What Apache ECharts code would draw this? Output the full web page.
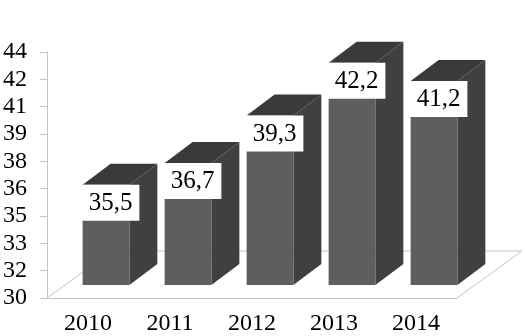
<!DOCTYPE html>
<html>
<head>
<meta charset="utf-8">
<script src="https://cdn.jsdelivr.net/npm/echarts@6/dist/echarts.min.js"></script>
<style>
html, body { margin: 0; padding: 0; background: #fff; }
#graph { width: 525px; height: 336px; }
</style>
</head>
<body>
<div id="graph"></div>
<script>
var years = ['2010', '2011', '2012', '2013', '2014'];
var values = [35.5, 36.7, 39.3, 42.2, 41.2];
var yMin = 30, yMax = 43.5, yStep = 1.5;

// pseudo-3D geometry (pixels)
var SHIFT_X = 18, SHIFT_Y = -13;   // bar pushed back into the floor
var DEPTH_X = 28, DEPTH_Y = -21;   // bar depth
var FLOOR_X = 65, FLOOR_Y = -47;   // floor depth

function fmt(v) {
    return String(v).replace('.', ',');
}

function renderFloor(params, api) {
    var cs = params.coordSys;
    var bx = cs.x, by = cs.y + cs.height, ex = cs.x + cs.width;
    return {
        type: 'polyline',
        shape: { points: [[bx, by], [bx + FLOOR_X, by + FLOOR_Y], [ex + FLOOR_X, by + FLOOR_Y], [ex, by]] },
        style: { stroke: '#c4c4c4', lineWidth: 1, fill: null }
    };
}

function renderBar(params, api) {
    var cat = api.value(0), val = api.value(1);
    var top = api.coord([cat, val]);
    var base = api.coord([cat, yMin]);
    var bw = api.size([1, 0])[0] * 0.57;
    var x0 = top[0] - bw / 2 + SHIFT_X, x1 = x0 + bw;
    var yt = top[1] + SHIFT_Y, yb = base[1] + SHIFT_Y;
    return {
        type: 'group',
        children: [
            {
                type: 'polygon',
                shape: { points: [[x1, yt], [x1 + DEPTH_X, yt + DEPTH_Y], [x1 + DEPTH_X, yb + DEPTH_Y], [x1, yb]] },
                style: { fill: '#404040' }
            },
            {
                type: 'polygon',
                shape: { points: [[x0, yt], [x1, yt], [x1 + DEPTH_X, yt + DEPTH_Y], [x0 + DEPTH_X, yt + DEPTH_Y]] },
                style: { fill: '#3a3a3a' }
            },
            {
                type: 'rect',
                shape: { x: x0, y: yt, width: bw, height: yb - yt },
                style: { fill: '#5e5e5e' }
            },
            {
                type: 'text',
                x: x0 - 1,
                y: yt,
                style: {
                    text: fmt(val),
                    font: '25px "Liberation Serif"',
                    fill: '#000',
                    align: 'left',
                    verticalAlign: 'top',
                    backgroundColor: '#fff',
                    padding: [6, 7, 5, 7]
                }
            }
        ]
    };
}

var chart = echarts.init(document.getElementById('graph'));
chart.setOption({
    backgroundColor: '#fff',
    animation: false,
    grid: { left: 45, right: 68, top: 52, bottom: 38 },
    xAxis: {
        type: 'category',
        data: years,
        axisLine: { lineStyle: { color: '#c4c4c4' } },
        axisTick: { length: 7, lineStyle: { color: '#c4c4c4' } },
        axisLabel: { color: '#000', fontFamily: 'Liberation Serif', fontSize: 24, margin: 14 }
    },
    yAxis: {
        type: 'value',
        min: yMin,
        max: yMax,
        interval: yStep,
        splitLine: { show: false },
        axisLine: { show: true, lineStyle: { color: '#c4c4c4' } },
        axisTick: { show: true, length: 7, lineStyle: { color: '#c4c4c4' } },
        axisLabel: {
            color: '#000', fontFamily: 'Liberation Serif', fontSize: 24, margin: 20,
            formatter: function (v) { return Math.round(v); }
        }
    },
    series: [
        {
            type: 'custom',
            silent: true,
            renderItem: renderFloor,
            data: [[0, yMin]],
            z: 1
        },
        {
            type: 'custom',
            renderItem: renderBar,
            data: values.map(function (v, i) { return [i, v]; }),
            z: 2
        }
    ]
});
</script>
</body>
</html>
